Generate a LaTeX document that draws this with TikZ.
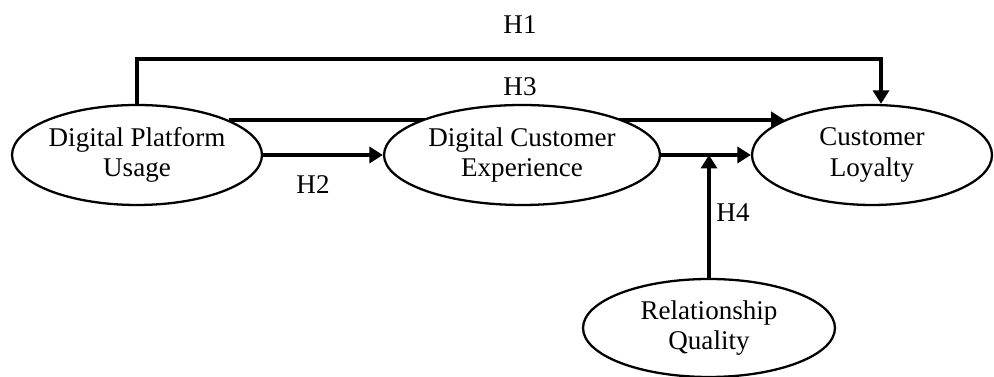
\documentclass[tikz,border=0pt]{standalone}
\usepackage{fontspec}
\setmainfont{Liberation Serif}
\usetikzlibrary{calc, arrows.meta, shapes.geometric, backgrounds}
\tikzset{
  var_n/.style = {ellipse, draw=black, line width=1.3pt, fill=white,
    align=center, inner sep=0pt, minimum height=2cm,
    font=\fontsize{15.4}{17.5}\selectfont},% construct
  hyp_a/.style = {draw=black, line width=2.2pt,
    -{Triangle[length=0.27cm, width=0.32cm]}},% hypothesis path
  hyp_l/.style = {font=\fontsize{15.4}{17.5}\selectfont}% H label
}

\begin{document}
\begin{tikzpicture}[x=0.02cm, y=-0.02cm]
\useasboundingbox (0,0) rectangle (994,377);

\node[var_n, minimum width=5cm]    (dpu) at (137,155) {Digital Platform\\Usage};
\node[var_n, minimum width=5.52cm] (dce) at (522,155) {Digital Customer\\Experience};
\node[var_n, minimum width=4.8cm]  (lyl) at (872,155) {Customer\\Loyalty};
\node[var_n, minimum width=5.04cm, minimum height=1.96cm] (rq) at (709,328) {Relationship\\Quality};

\coordinate (h1) at (881,59);

\draw[hyp_a] (dpu.north) |- (h1) -- (h1 |- lyl.north);
\draw[hyp_a] (dpu.east) -- (dce.west);
\draw[hyp_a] (dce.east) -- (lyl.west);
\draw[hyp_a] (rq) -- (rq |- lyl.west);
\begin{pgfonlayer}{background}
\draw[hyp_a] (dpu.21.5) -- (dpu.21.5 -| lyl.158);
\end{pgfonlayer}

\node[hyp_l] (l1) at (520,25)  {H1};
\node[hyp_l] (l2) at (313,185) {H2};
\node[hyp_l] (l3) at (520,87)  {H3};
\node[hyp_l] (l4) at (733,213) {H4};
\end{tikzpicture}
\end{document}
